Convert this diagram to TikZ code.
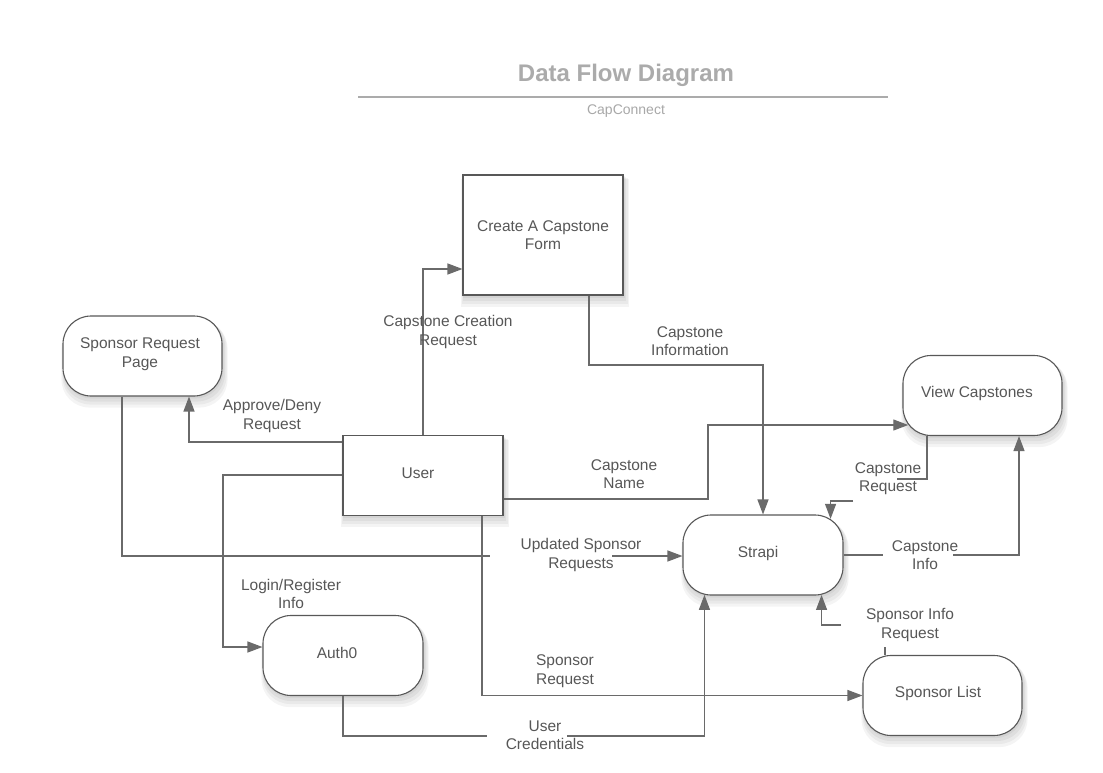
\documentclass[tikz,border=0pt]{standalone}
\usepackage{fontspec}
\setmainfont{Liberation Sans}
\usetikzlibrary{arrows.meta}
\pgfdeclarelayer{back}
\pgfdeclarelayer{shadowlayer}
\pgfsetlayers{back,shadowlayer,main}
\definecolor{linec}{HTML}{6A6A6A}
\definecolor{edgec}{HTML}{585858}
\definecolor{txtc}{HTML}{575757}
\definecolor{titlec}{HTML}{ABABAB}
\definecolor{subc}{HTML}{A8A8A8}
\tikzset{
  shp/.style={draw=edgec, fill=white, line width=1.1pt, inner sep=0pt},
  proc/.style={shp, rounded corners=28pt, minimum width=159pt, minimum height=80pt},
  boxr/.style={shp, sharp corners, minimum width=160pt, minimum height=80pt},
  txt/.style={text=txtc, align=center, font=\fontsize{15.5}{18.5}\selectfont, inner sep=0pt},
  conn/.style={draw=linec, line width=1.2pt},
  arr/.style={conn, -{Triangle[length=15pt,width=11pt]}, color=linec},
  shd/.style={fill=black, fill opacity=0.045},
}
\begin{document}
\begin{tikzpicture}[x=1pt,y=-1pt]
\useasboundingbox (0,0) rectangle (1103,773);
\begin{pgfonlayer}{back}
\fill[white] (0,0) rectangle (1103,773);
\end{pgfonlayer}

% title
\node[font=\fontsize{24}{28}\selectfont\bfseries, text=titlec] (title) at (626,75) {Data Flow Diagram};
\coordinate (tl) at (358,97);
\coordinate (tr) at (888,97);
\draw[titlec, line width=2pt] (tl) -- (tr);
\node[font=\fontsize{14}{17}\selectfont, text=subc] (sub) at (626,111) {CapConnect};

% nodes
\node[boxr, minimum height=120pt] (form) at (543,235) {};
\node[txt] (formT) at (543,235) {Create A Capstone\\Form};
\node[proc] (srp) at (142.5,356) {};
\node[txt] (srpT) at (140,354) {Sponsor Request\\Page};
\node[boxr] (user) at (423,475.5) {};
\node[txt] (userT) at (418,473) {User};
\node[proc] (vc) at (982.5,395.5) {};
\node[txt] (vcT) at (977,393) {View Capstones};
\node[proc, minimum width=160pt] (strapi) at (763,555) {};
\node[txt] (strapiT) at (758,553) {Strapi};
\node[proc, minimum width=160pt] (auth) at (343,655.5) {};
\node[txt] (authT) at (337,653) {Auth0};
\node[proc] (sl) at (942.5,695.5) {};
\node[txt] (slT) at (938,693) {Sponsor List};

% soft shadows
\begin{pgfonlayer}{shadowlayer}
\foreach \n/\r in {form/0,user/0,srp/28,vc/28,strapi/28,auth/28,sl/28}{
  \foreach \dx/\dy/\g in {1/2/0,1.5/4/1,2/6/2,2/8/3}{
    \fill[shd, rounded corners=\r pt]
      ([shift={(\dx-\g,\dy-\g)}]\n.north west) rectangle ([shift={(\dx+\g,\dy+\g)}]\n.south east);
  }
}
\end{pgfonlayer}

% gap coordinates
\coordinate (g1a) at (423,312);
\coordinate (g1b) at (423,353);
\coordinate (g6a) at (490,556);
\coordinate (g6b) at (612,556);
\coordinate (g7a) at (883,555);
\coordinate (g7b) at (953,555);
\coordinate (g8a) at (897,479);
\coordinate (g8b) at (853,501);
\coordinate (g9a) at (885,647);
\coordinate (g9b) at (841,625);
\coordinate (g11a) at (487,736);
\coordinate (g11b) at (567,736);

% connectors
\draw[conn] (user.north) -- (g1a);
\draw[arr] (g1b) |- (form.west |- 0,269);

\draw[arr] (form.south -| 589,0) |- (763,365) -- (strapi.north);

\draw[arr] (user.east |- 0,499) -| (708,425) -- ([xshift=5.8pt,yshift=-29.5pt]vc.west);

\draw[arr] (user.west |- 0,442) -| (srp.south -| 189,0);

\draw[arr] (user.west |- 0,475) -| (223,647) -- (auth.west |- 0,647);

\draw[conn] (srp.south -| 122,0) |- (g6a);
\draw[arr] (g6b) -- (strapi.west |- 0,556);

\draw[conn] (strapi.east) -- (g7a);
\draw[arr] (g7b) -| (vc.south -| 1019,0);

\draw[conn] (vc.south -| 927,0) |- (g8a);
\draw[arr] (g8b) -| ([xshift=-13pt,yshift=-4.4pt]strapi.north east);

\draw[conn] (sl.north -| 885,0) -- (g9a);
\draw[arr] (g9b) -| ([xshift=-22pt,yshift=0.6pt]strapi.south east);

\draw[arr] (user.south -| 482,0) |- (sl.west);

\draw[conn] (auth.south) |- (g11a);
\draw[arr] (g11b) -| ([xshift=22pt,yshift=0.7pt]strapi.south west);

% labels
\node[txt] (l1) at (448,332) {Capstone Creation\\Request};
\node[txt] (l2) at (690,341) {Capstone\\Information};
\node[txt] (l3) at (624,474) {Capstone\\Name};
\node[txt] (l4) at (272,416) {Approve/Deny\\Request};
\node[txt] (l5) at (291,594) {Login/Register\\Info};
\node[txt] (l6) at (581,555) {Updated Sponsor\\Requests};
\node[txt] (l7) at (925,555) {Capstone\\Info};
\node[txt] (l8) at (888,478.5) {Capstone\\Request};
\node[txt] (l9) at (910,625) {Sponsor Info\\Request};
\node[txt] (l10) at (565,671) {Sponsor\\Request};
\node[txt] (l11) at (545,735) {User\\Credentials};
\end{tikzpicture}
\end{document}
